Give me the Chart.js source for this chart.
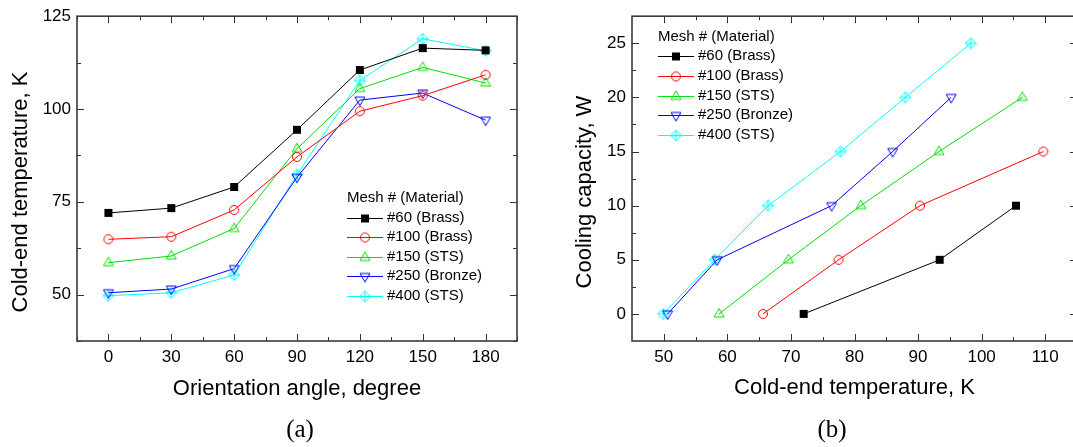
<!DOCTYPE html>
<html>
<head>
<meta charset="utf-8">
<script src="https://cdn.jsdelivr.net/npm/chart.js@4.4.1/dist/chart.umd.min.js"></script>
<style>
  html, body { margin: 0; padding: 0; background: #fff; overflow: hidden; }
  body { width: 1073px; height: 447px; position: relative; }
  canvas { position: absolute; top: 0; }
  #chartA { left: 0; }
  #chartB { left: 530px; }
  .cap { position: absolute; top: 416px; font: 25px 'Liberation Serif', 'Times New Roman', serif; line-height: 1; transform: translateX(-50%); }
</style>
</head>
<body>
<canvas id="chartA" width="530" height="447"></canvas>
<canvas id="chartB" width="560" height="447"></canvas>
<div class="cap" style="left:300px">(a)</div>
<div class="cap" style="left:832px">(b)</div>
<script>
// (a) cold-end temperature vs orientation angle
const angles = [0, 30, 60, 90, 120, 150, 180];
const temp60 = [72.0, 73.3, 79.0, 94.4, 110.5, 116.4, 115.8];
const temp100 = [64.9, 65.6, 72.8, 87.1, 99.4, 103.6, 109.2];
const temp150 = [58.6, 60.4, 67.8, 89.3, 105.5, 111.2, 107.0];
const temp250 = [50.5, 51.5, 57.0, 81.6, 102.4, 104.3, 97.0];
const temp400 = [49.7, 50.5, 55.3, 82.3, 107.7, 118.9, 115.7];

// (b) cooling capacity vs cold-end temperature
const cap60 = [0, 5, 10];
const tc60 = [72.0, 93.4, 105.4];
const cap100 = [0, 5, 10, 15];
const tc100 = [65.6, 77.5, 90.3, 109.7];
const cap150 = [0, 5, 10, 15, 20];
const tc150 = [58.7, 69.6, 81.0, 93.3, 106.4];
const cap250 = [0, 5, 10, 15, 20];
const tc250 = [50.6, 58.4, 76.4, 86.0, 95.2];
const cap400 = [0, 5, 10, 15, 20, 25];
const tc400 = [49.9, 58.0, 66.4, 77.8, 88.0, 98.3];

const seriesNames = ["#60 (Brass)", "#100 (Brass)", "#150 (STS)", "#250 (Bronze)", "#400 (STS)"];

// tick labels
const angleTicks = [0, 30, 60, 90, 120, 150, 180];
const angleMinor = [-15, 15, 45, 75, 105, 135, 165, 195];
const tempTicks = [50, 75, 100, 125];
const tempMinor = [37.5, 62.5, 87.5, 112.5];
const coldTicks = [50, 60, 70, 80, 90, 100, 110];
const coldMinor = [55, 65, 75, 85, 95, 105, 115];
const capTicks = [0, 5, 10, 15, 20, 25];
const capMinor = [2.5, 7.5, 12.5, 17.5, 22.5];

const SANS = "'Liberation Sans', Arial, sans-serif";
Chart.defaults.font.family = SANS;
Chart.defaults.color = "#000";

const colors = ["#000000", "#ff0000", "#00e000", "#0000ff", "#00ffff"];
const shapes = ["square", "circle", "triangle", "triangleDown", "diamondCross"];

function makeMarker(kind, color) {
    const c = document.createElement("canvas");
    c.width = 14; c.height = 14;
    const g = c.getContext("2d");
    g.strokeStyle = color; g.fillStyle = color; g.lineWidth = 1;
    g.beginPath();
    if (kind === "square") {
        g.fillRect(3, 3, 8, 8);
        return c;
    }
    if (kind === "circle") {
        g.arc(7, 7, 4.5, 0, Math.PI * 2);
    } else if (kind === "triangle") {
        g.moveTo(7, 1.5); g.lineTo(12, 10); g.lineTo(2, 10); g.closePath();
        g.fillRect(6.5, 6.5, 1, 1);
    } else if (kind === "triangleDown") {
        g.moveTo(7, 12.5); g.lineTo(12, 4); g.lineTo(2, 4); g.closePath();
    } else {
        g.moveTo(7, 1.5); g.lineTo(12.5, 7); g.lineTo(7, 12.5); g.lineTo(1.5, 7); g.closePath();
        g.moveTo(7, 1.5); g.lineTo(7, 12.5);
        g.moveTo(1.5, 7); g.lineTo(12.5, 7);
    }
    g.stroke();
    return c;
}
const markers = shapes.map((s, i) => makeMarker(s, colors[i]));

function makeSets(xs, ys) {
    return ys.map((yv, i) => ({
        label: seriesNames[i],
        data: xs[i].map((xv, j) => ({ x: xv, y: yv[j] })),
        borderColor: colors[i],
        backgroundColor: colors[i],
        borderWidth: 1,
        pointStyle: markers[i],
        pointRadius: 5,
        tension: 0
    }));
}

// frame, inward ticks, axis titles and legend
const framePlugin = {
    id: "frame",
    afterDatasetsDraw(chart, args, o) {
        const { ctx, chartArea: a } = chart;
        const sx = chart.scales.x, sy = chart.scales.y;
        ctx.save();
        ctx.strokeStyle = "#333";
        ctx.lineWidth = 1;
        const xt = (vals, len) => vals.forEach(v => {
            const px = Math.round(sx.getPixelForValue(v)) + 0.5;
            ctx.beginPath();
            ctx.moveTo(px, a.bottom); ctx.lineTo(px, a.bottom - len);
            ctx.moveTo(px, a.top); ctx.lineTo(px, a.top + len);
            ctx.stroke();
        });
        const yt = (vals, len) => vals.forEach(v => {
            const py = Math.round(sy.getPixelForValue(v)) + 0.5;
            ctx.beginPath();
            ctx.moveTo(a.left, py); ctx.lineTo(a.left + len, py);
            ctx.moveTo(a.right, py); ctx.lineTo(a.right - len, py);
            ctx.stroke();
        });
        xt(o.xMajor, 7); xt(o.xMinor, 4);
        yt(o.yMajor, 7); yt(o.yMinor, 4);
        ctx.strokeStyle = "#3a3a3a";
        ctx.lineWidth = 1.6;
        ctx.strokeRect(a.left, a.top, a.right - a.left, a.bottom - a.top);

        // axis titles
        ctx.fillStyle = "#000";
        ctx.font = "22px " + SANS;
        ctx.textAlign = "center";
        ctx.textBaseline = "middle";
        ctx.fillText(o.xTitle, (a.left + a.right) / 2, o.xTitleY);
        ctx.save();
        ctx.translate(o.yTitleX, o.yTitleY);
        ctx.rotate(-Math.PI / 2);
        ctx.fillText(o.yTitle, 0, 0);
        ctx.restore();

        // legend
        const L = o.legend;
        ctx.font = "15px " + SANS;
        ctx.textAlign = "left";
        ctx.fillText("Mesh # (Material)", L.x, L.titleY);
        chart.data.datasets.forEach((ds, i) => {
            const y = L.y0 + i * L.dy;
            ctx.strokeStyle = ds.borderColor;
            ctx.lineWidth = 1;
            ctx.beginPath();
            ctx.moveTo(L.x, Math.round(y) + 0.5); ctx.lineTo(L.x + 36, Math.round(y) + 0.5);
            ctx.stroke();
            const m = ds.pointStyle;
            ctx.drawImage(m, L.x + 18 - m.width / 2, Math.round(y) - m.height / 2 + 0.5);
            ctx.fillText(ds.label, L.x + 40, y);
        });
        ctx.restore();
    }
};

function axis(min, max, ticks, extra) {
    return Object.assign({
        type: "linear",
        min: min,
        max: max,
        afterBuildTicks: s => { s.ticks = ticks.map(v => ({ value: v })); },
        grid: { display: false, drawTicks: false },
        border: { display: false },
        ticks: { font: { size: 17 }, color: "#000", autoSkip: false, maxRotation: 0, padding: 6 }
    }, extra);
}

new Chart(document.getElementById("chartA"), {
    type: "line",
    data: {
        datasets: makeSets([angles, angles, angles, angles, angles], [temp60, temp100, temp150, temp250, temp400])
    },
    options: {
        responsive: false,
        animation: false,
        layout: { padding: { left: 0, right: 13, top: 14, bottom: 0 } },
        plugins: {
            legend: { display: false },
            tooltip: { enabled: false },
            frame: {
                xMajor: angleTicks, xMinor: angleMinor, yMajor: tempTicks, yMinor: tempMinor,
                xTitle: "Orientation angle, degree", xTitleY: 389,
                yTitle: "Cold-end temperature, K", yTitleX: 21, yTitleY: 192,
                legend: { x: 347, titleY: 198, y0: 217.6, dy: 19.5 }
            }
        },
        scales: {
            x: axis(-15, 195, angleTicks, { afterFit: s => { s.height = 106; } }),
            y: axis(37.5, 125, tempTicks, { afterFit: s => { s.width = 77; } })
        }
    },
    plugins: [framePlugin]
});

new Chart(document.getElementById("chartB"), {
    type: "line",
    data: {
        datasets: makeSets([tc60, tc100, tc150, tc250, tc400], [cap60, cap100, cap150, cap250, cap400])
    },
    options: {
        responsive: false,
        animation: false,
        layout: { padding: { left: 0, right: 13, top: 13, bottom: 0 } },
        plugins: {
            legend: { display: false },
            tooltip: { enabled: false },
            frame: {
                xMajor: coldTicks, xMinor: coldMinor, yMajor: capTicks, yMinor: capMinor,
                xTitle: "Cold-end temperature, K", xTitleY: 388,
                yTitle: "Cooling capacity, W", yTitleX: 55, yTitleY: 192,
                legend: { x: 128, titleY: 37, y0: 56, dy: 19.75 }
            }
        },
        scales: {
            x: axis(45, 115, coldTicks, { afterFit: s => { s.height = 106; } }),
            y: axis(-2.5, 27.5, capTicks, { afterFit: s => { s.width = 102; } })
        }
    },
    plugins: [framePlugin]
});
</script>
</body>
</html>
